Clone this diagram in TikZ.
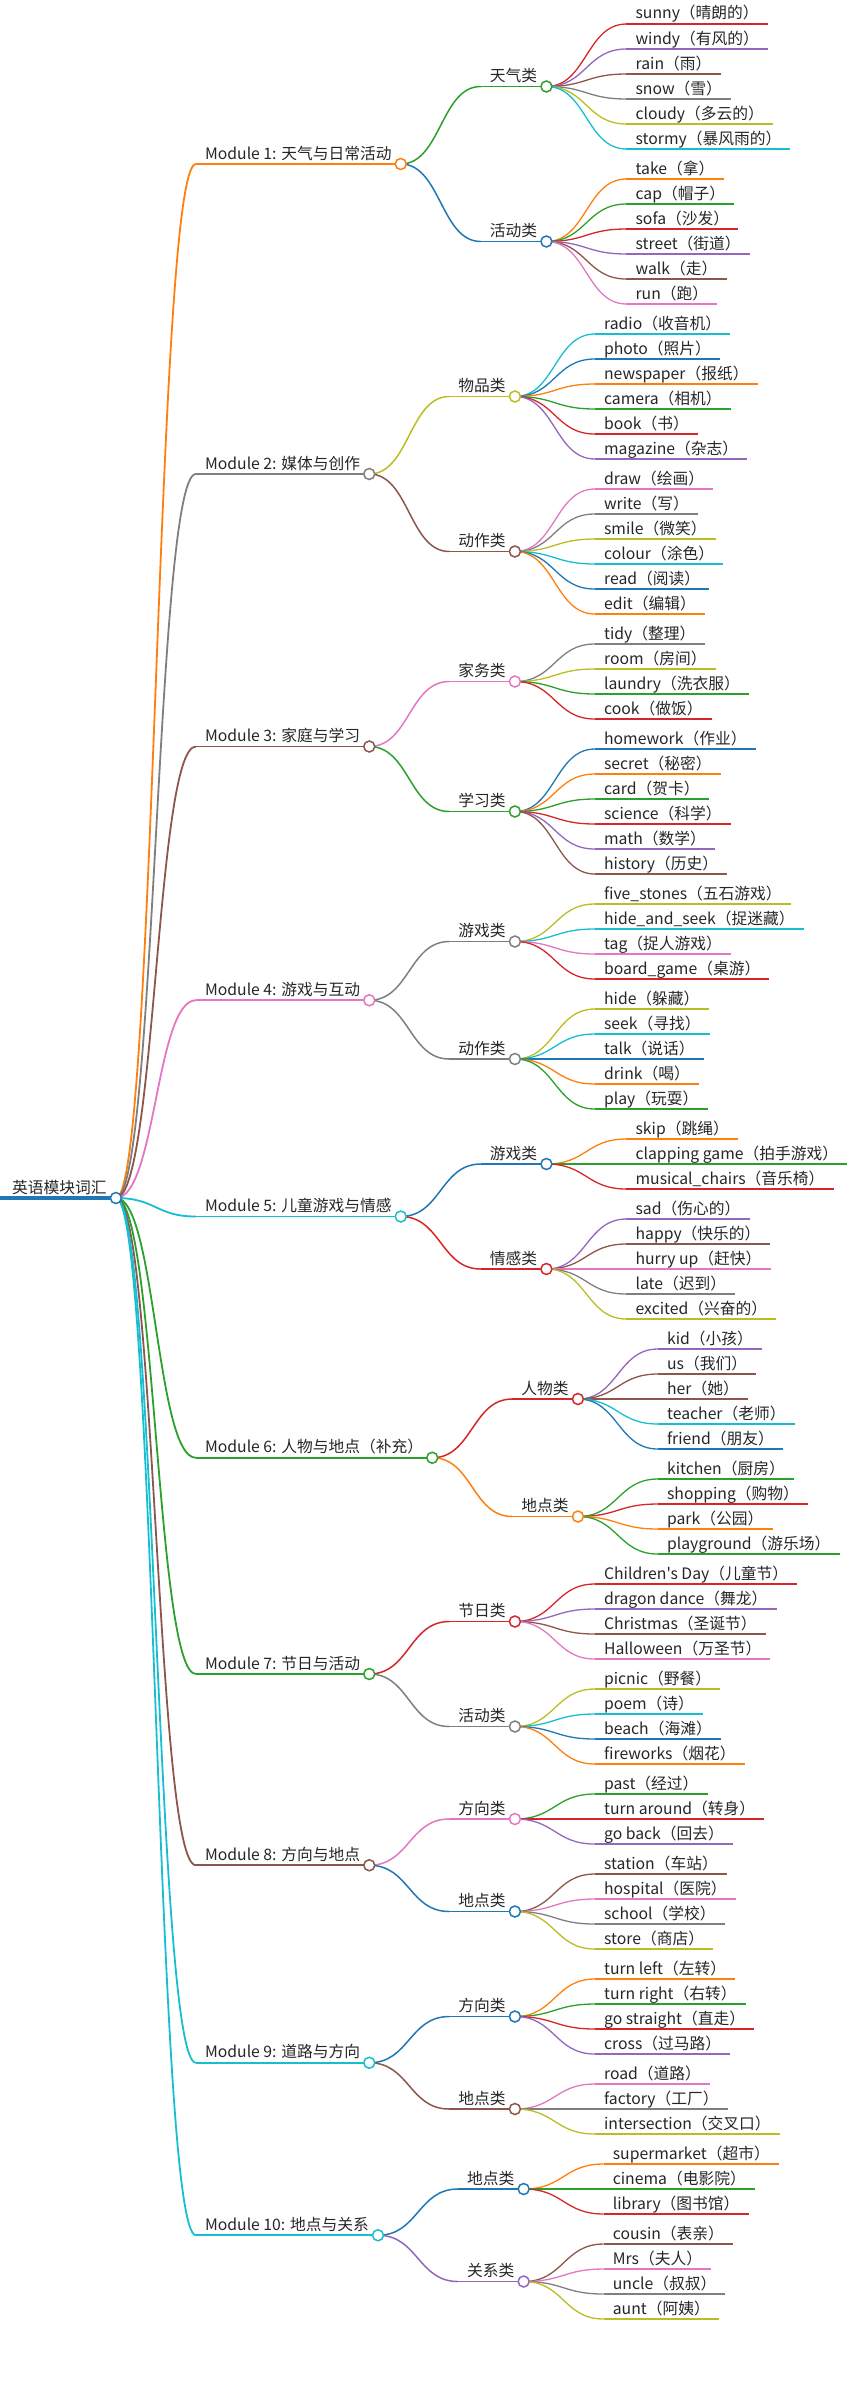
\documentclass[tikz,border=0pt]{standalone}
\usepackage{fontspec}
\newfontfamily\mmfont{Noto Sans CJK SC}
\usetikzlibrary{calc}
\pgfdeclarelayer{bg}
\pgfsetlayers{bg,main}
\definecolor{cblue}{HTML}{1F77B4}
\definecolor{corange}{HTML}{FF7F0E}
\definecolor{cgreen}{HTML}{2CA02C}
\definecolor{cred}{HTML}{D62728}
\definecolor{cpurple}{HTML}{9467BD}
\definecolor{cbrown}{HTML}{8C564B}
\definecolor{cpink}{HTML}{E377C2}
\definecolor{cgray}{HTML}{7F7F7F}
\definecolor{colive}{HTML}{BCBD22}
\definecolor{ccyan}{HTML}{17BECF}
\tikzset{
  mmtxt/.style={font=\mmfont\fontsize{15.75}{18}\selectfont, text=black!85, inner sep=0pt, anchor=base west},
  mmdot/.style={circle, fill=white, line width=1.5pt, minimum size=11pt, inner sep=0pt},
}
% link: color, width, from, to
\newcommand\mmlink[4]{%
  \draw[#1, line width=#2] let \p1=(#3), \p2=(#4) in (\p1) .. controls ({(\x1+\x2)/2},\y1) and ({(\x1+\x2)/2},\y2) .. (\p2);}
% inner node: name, parent, y, color, width, text
\newcommand\mmnode[6]{%
  \path let \p1=(#2) in (\x1+80pt,-#3pt) coordinate (#1-s);
  \node[mmtxt] (#1-t) at ([shift={(9pt,5pt)}]#1-s) {#6};
  \path let \p1=(#1-t.base east), \p2=(#1-s) in (\x1+9pt,\y2) coordinate (#1-e);
  \begin{pgfonlayer}{bg}
    \mmlink{#4}{#5}{#2}{#1-s}
    \draw[#4, line width=#5] (#1-s) -- (#1-e);
  \end{pgfonlayer}
  \node[mmdot, draw=#4] (#1) at (#1-e) {};
}
% leaf: name, parent, y, color, text
\newcommand\mmleaf[5]{%
  \path let \p1=(#2) in (\x1+80pt,-#3pt) coordinate (#1-s);
  \node[mmtxt] (#1-t) at ([shift={(9pt,5pt)}]#1-s) {#5};
  \path let \p1=(#1-t.base east), \p2=(#1-s) in (\x1+9pt,\y2) coordinate (#1-e);
  \begin{pgfonlayer}{bg}
    \mmlink{#4}{1.3pt}{#2}{#1-s}
    \draw[#4, line width=1.3pt] (#1-s) -- (#1-e);
  \end{pgfonlayer}
}
\begin{document}
\begin{tikzpicture}[x=1pt,y=-1pt]
\useasboundingbox (0,0) rectangle (852,2385);
% root
\coordinate (root-s) at (0,1198);
\node[mmtxt] (root-t) at ([shift={(12pt,5pt)}]root-s) {英语模块词汇};
\path let \p1=(root-t.base east), \p2=(root-s) in (\x1+9pt,\y2) coordinate (root-e);
\begin{pgfonlayer}{bg}
  \draw[cblue, line width=3.2pt] (root-s) -- (root-e);
\end{pgfonlayer}
\node[mmdot, draw=cblue] (root) at (root-e) {};

% Module 1
\mmnode{m1}{root}{164}{corange}{1.8pt}{Module 1: 天气与日常活动}
\mmnode{m1a}{m1}{86.5}{cgreen}{1.5pt}{天气类}
\mmleaf{m1a1}{m1a}{24}{cred}{sunny（晴朗的）}
\mmleaf{m1a2}{m1a}{49}{cpurple}{windy（有风的）}
\mmleaf{m1a3}{m1a}{74}{cbrown}{rain（雨）}
\mmleaf{m1a4}{m1a}{99}{cgray}{snow（雪）}
\mmleaf{m1a5}{m1a}{124}{colive}{cloudy（多云的）}
\mmleaf{m1a6}{m1a}{149}{ccyan}{stormy（暴风雨的）}
\mmnode{m1b}{m1}{241.5}{cblue}{1.5pt}{活动类}
\mmleaf{m1b1}{m1b}{179}{corange}{take（拿）}
\mmleaf{m1b2}{m1b}{204}{cgreen}{cap（帽子）}
\mmleaf{m1b3}{m1b}{229}{cred}{sofa（沙发）}
\mmleaf{m1b4}{m1b}{254}{cpurple}{street（街道）}
\mmleaf{m1b5}{m1b}{279}{cbrown}{walk（走）}
\mmleaf{m1b6}{m1b}{304}{cpink}{run（跑）}

% Module 2
\mmnode{m2}{root}{474}{cgray}{1.8pt}{Module 2: 媒体与创作}
\mmnode{m2a}{m2}{396.5}{colive}{1.5pt}{物品类}
\mmleaf{m2a1}{m2a}{334}{ccyan}{radio（收音机）}
\mmleaf{m2a2}{m2a}{359}{cblue}{photo（照片）}
\mmleaf{m2a3}{m2a}{384}{corange}{newspaper（报纸）}
\mmleaf{m2a4}{m2a}{409}{cgreen}{camera（相机）}
\mmleaf{m2a5}{m2a}{434}{cred}{book（书）}
\mmleaf{m2a6}{m2a}{459}{cpurple}{magazine（杂志）}
\mmnode{m2b}{m2}{551.5}{cbrown}{1.5pt}{动作类}
\mmleaf{m2b1}{m2b}{489}{cpink}{draw（绘画）}
\mmleaf{m2b2}{m2b}{514}{cgray}{write（写）}
\mmleaf{m2b3}{m2b}{539}{colive}{smile（微笑）}
\mmleaf{m2b4}{m2b}{564}{ccyan}{colour（涂色）}
\mmleaf{m2b5}{m2b}{589}{cblue}{read（阅读）}
\mmleaf{m2b6}{m2b}{614}{corange}{edit（编辑）}

% Module 3
\mmnode{m3}{root}{746.5}{cbrown}{1.8pt}{Module 3: 家庭与学习}
\mmnode{m3a}{m3}{681.5}{cpink}{1.5pt}{家务类}
\mmleaf{m3a1}{m3a}{644}{cgray}{tidy（整理）}
\mmleaf{m3a2}{m3a}{669}{colive}{room（房间）}
\mmleaf{m3a3}{m3a}{694}{cgreen}{laundry（洗衣服）}
\mmleaf{m3a4}{m3a}{719}{cred}{cook（做饭）}
\mmnode{m3b}{m3}{811.5}{cgreen}{1.5pt}{学习类}
\mmleaf{m3b1}{m3b}{749}{cblue}{homework（作业）}
\mmleaf{m3b2}{m3b}{774}{corange}{secret（秘密）}
\mmleaf{m3b3}{m3b}{799}{cgreen}{card（贺卡）}
\mmleaf{m3b4}{m3b}{824}{cred}{science（科学）}
\mmleaf{m3b5}{m3b}{849}{cpurple}{math（数学）}
\mmleaf{m3b6}{m3b}{874}{cbrown}{history（历史）}

% Module 4
\mmnode{m4}{root}{1000.25}{cpink}{1.8pt}{Module 4: 游戏与互动}
\mmnode{m4a}{m4}{941.5}{cgray}{1.5pt}{游戏类}
\mmleaf{m4a1}{m4a}{904}{colive}{five\_stones（五石游戏）}
\mmleaf{m4a2}{m4a}{929}{ccyan}{hide\_and\_seek（捉迷藏）}
\mmleaf{m4a3}{m4a}{954}{cpink}{tag（捉人游戏）}
\mmleaf{m4a4}{m4a}{979}{cred}{board\_game（桌游）}
\mmnode{m4b}{m4}{1059}{cgray}{1.5pt}{动作类}
\mmleaf{m4b1}{m4b}{1009}{colive}{hide（躲藏）}
\mmleaf{m4b2}{m4b}{1034}{ccyan}{seek（寻找）}
\mmleaf{m4b3}{m4b}{1059}{cblue}{talk（说话）}
\mmleaf{m4b4}{m4b}{1084}{corange}{drink（喝）}
\mmleaf{m4b5}{m4b}{1109}{cgreen}{play（玩耍）}

% Module 5
\mmnode{m5}{root}{1216.5}{ccyan}{1.8pt}{Module 5: 儿童游戏与情感}
\mmnode{m5a}{m5}{1164}{cblue}{1.5pt}{游戏类}
\mmleaf{m5a1}{m5a}{1139}{corange}{skip（跳绳）}
\mmleaf{m5a2}{m5a}{1164}{cgreen}{clapping game（拍手游戏）}
\mmleaf{m5a3}{m5a}{1189}{cred}{musical\_chairs（音乐椅）}
\mmnode{m5b}{m5}{1269}{cred}{1.5pt}{情感类}
\mmleaf{m5b1}{m5b}{1219}{cpurple}{sad（伤心的）}
\mmleaf{m5b2}{m5b}{1244}{cbrown}{happy（快乐的）}
\mmleaf{m5b3}{m5b}{1269}{cpink}{hurry up（赶快）}
\mmleaf{m5b4}{m5b}{1294}{cgray}{late（迟到）}
\mmleaf{m5b5}{m5b}{1319}{colive}{excited（兴奋的）}

% Module 6
\mmnode{m6}{root}{1457.75}{cgreen}{1.8pt}{Module 6: 人物与地点（补充）}
\mmnode{m6a}{m6}{1399}{cred}{1.5pt}{人物类}
\mmleaf{m6a1}{m6a}{1349}{cpurple}{kid（小孩）}
\mmleaf{m6a2}{m6a}{1374}{cbrown}{us（我们）}
\mmleaf{m6a3}{m6a}{1399}{cbrown}{her（她）}
\mmleaf{m6a4}{m6a}{1424}{ccyan}{teacher（老师）}
\mmleaf{m6a5}{m6a}{1449}{cblue}{friend（朋友）}
\mmnode{m6b}{m6}{1516.5}{corange}{1.5pt}{地点类}
\mmleaf{m6b1}{m6b}{1479}{cgreen}{kitchen（厨房）}
\mmleaf{m6b2}{m6b}{1504}{cred}{shopping（购物）}
\mmleaf{m6b3}{m6b}{1529}{corange}{park（公园）}
\mmleaf{m6b4}{m6b}{1554}{cgreen}{playground（游乐场）}

% Module 7
\mmnode{m7}{root}{1674}{cgreen}{1.8pt}{Module 7: 节日与活动}
\mmnode{m7a}{m7}{1621.5}{cred}{1.5pt}{节日类}
\mmleaf{m7a1}{m7a}{1584}{cred}{Children's Day（儿童节）}
\mmleaf{m7a2}{m7a}{1609}{cpurple}{dragon dance（舞龙）}
\mmleaf{m7a3}{m7a}{1634}{cbrown}{Christmas（圣诞节）}
\mmleaf{m7a4}{m7a}{1659}{cpink}{Halloween（万圣节）}
\mmnode{m7b}{m7}{1726.5}{cgray}{1.5pt}{活动类}
\mmleaf{m7b1}{m7b}{1689}{colive}{picnic（野餐）}
\mmleaf{m7b2}{m7b}{1714}{ccyan}{poem（诗）}
\mmleaf{m7b3}{m7b}{1739}{cblue}{beach（海滩）}
\mmleaf{m7b4}{m7b}{1764}{corange}{fireworks（烟花）}

% Module 8
\mmnode{m8}{root}{1865.25}{cbrown}{1.8pt}{Module 8: 方向与地点}
\mmnode{m8a}{m8}{1819}{cpink}{1.5pt}{方向类}
\mmleaf{m8a1}{m8a}{1794}{cgreen}{past（经过）}
\mmleaf{m8a2}{m8a}{1819}{cred}{turn around（转身）}
\mmleaf{m8a3}{m8a}{1844}{cpurple}{go back（回去）}
\mmnode{m8b}{m8}{1911.5}{cblue}{1.5pt}{地点类}
\mmleaf{m8b1}{m8b}{1874}{cbrown}{station（车站）}
\mmleaf{m8b2}{m8b}{1899}{cpink}{hospital（医院）}
\mmleaf{m8b3}{m8b}{1924}{cgray}{school（学校）}
\mmleaf{m8b4}{m8b}{1949}{colive}{store（商店）}

% Module 9
\mmnode{m9}{root}{2062.75}{ccyan}{1.8pt}{Module 9: 道路与方向}
\mmnode{m9a}{m9}{2016.5}{cblue}{1.5pt}{方向类}
\mmleaf{m9a1}{m9a}{1979}{corange}{turn left（左转）}
\mmleaf{m9a2}{m9a}{2004}{cgreen}{turn right（右转）}
\mmleaf{m9a3}{m9a}{2029}{cred}{go straight（直走）}
\mmleaf{m9a4}{m9a}{2054}{cpurple}{cross（过马路）}
\mmnode{m9b}{m9}{2109}{cbrown}{1.5pt}{地点类}
\mmleaf{m9b1}{m9b}{2084}{cpink}{road（道路）}
\mmleaf{m9b2}{m9b}{2109}{cgray}{factory（工厂）}
\mmleaf{m9b3}{m9b}{2134}{colive}{intersection（交叉口）}

% Module 10
\mmnode{m10}{root}{2235.25}{ccyan}{1.8pt}{Module 10: 地点与关系}
\mmnode{m10a}{m10}{2189}{cblue}{1.5pt}{地点类}
\mmleaf{m10a1}{m10a}{2164}{corange}{supermarket（超市）}
\mmleaf{m10a2}{m10a}{2189}{cgreen}{cinema（电影院）}
\mmleaf{m10a3}{m10a}{2214}{cred}{library（图书馆）}
\mmnode{m10b}{m10}{2281.5}{cpurple}{1.5pt}{关系类}
\mmleaf{m10b1}{m10b}{2244}{cbrown}{cousin（表亲）}
\mmleaf{m10b2}{m10b}{2269}{cpink}{Mrs（夫人）}
\mmleaf{m10b3}{m10b}{2294}{cgray}{uncle（叔叔）}
\mmleaf{m10b4}{m10b}{2319}{colive}{aunt（阿姨）}
\end{tikzpicture}
\end{document}
